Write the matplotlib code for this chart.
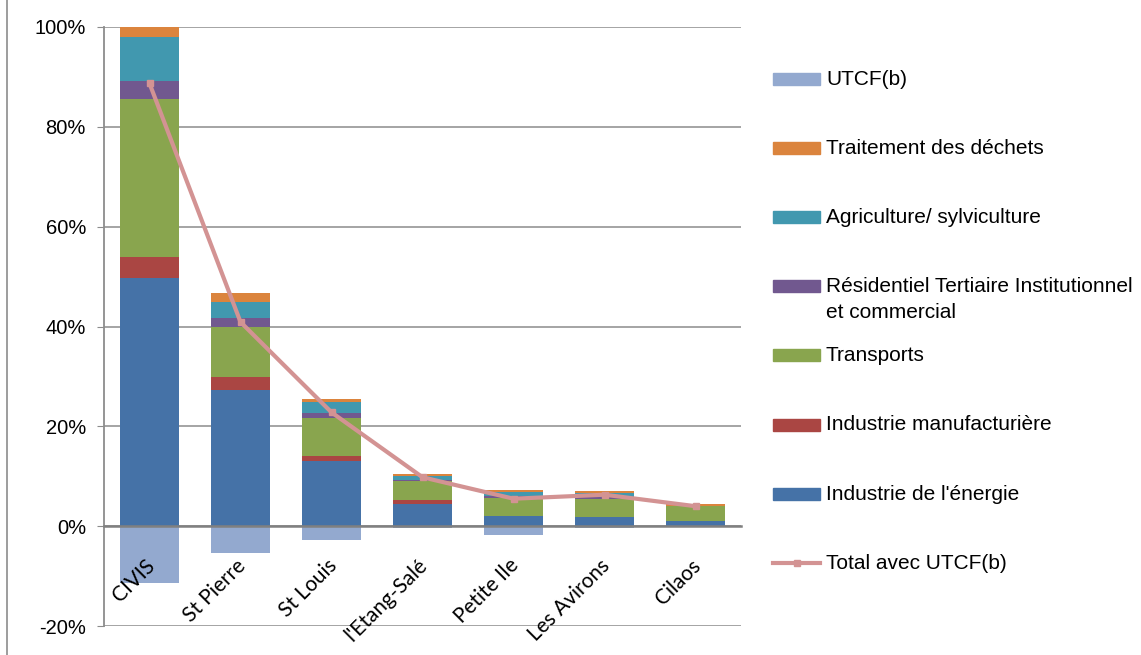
import matplotlib
matplotlib.use("Agg")
import matplotlib.pyplot as plt
import matplotlib.transforms as mtransforms
import numpy as np
from matplotlib.patches import Rectangle
from matplotlib.lines import Line2D
from matplotlib.ticker import FuncFormatter

communes = ["CIVIS", "St Pierre", "St Louis", "l'Etang-Salé", "Petite Ile", "Les Avirons", "Cilaos"]

# parts in % of CIVIS total
energie = [49.8, 27.3, 13.0, 4.4, 2.1, 1.8, 1.1]
manuf = [4.1, 2.6, 1.1, 0.8, 0.0, 0.0, 0.0]
transports = [31.7, 9.9, 7.5, 3.9, 3.6, 3.55, 2.9]
residentiel = [3.6, 2.0, 1.0, 0.2, 0.4, 0.5, 0.0]
agri = [8.7, 3.2, 2.3, 0.7, 0.8, 0.8, 0.0]
dechets = [2.1, 1.8, 0.6, 0.4, 0.4, 0.3, 0.4]
utcf = [-11.4, -5.3, -2.7, -0.4, -1.8, -0.4, -0.1]
total = [88.7, 40.9, 22.8, 9.8, 5.5, 6.3, 4.0]

series = [
    ("Industrie de l'énergie", energie, '#4572A7'),
    ("Industrie manufacturière", manuf, '#AA4643'),
    ("Transports", transports, '#89A54E'),
    ("Résidentiel Tertiaire Institutionnel\net commercial", residentiel, '#71588F'),
    ("Agriculture/ sylviculture", agri, '#4198AF'),
    ("Traitement des déchets", dechets, '#DB843D'),
]
utcf_col = '#93A9CF'
line_col = '#D39393'

W, H = 1141, 655
fig = plt.figure(figsize=(W / 100, H / 100), dpi=100)
ax = fig.add_axes([104 / W, 29 / H, 637 / W, 599 / H])

x = np.arange(len(communes))
bw = 0.64
bottom = np.zeros(len(communes))
for name, vals, col in series:
    ax.bar(x, vals, bw, bottom=bottom, color=col, zorder=2)
    bottom += np.array(vals)
ax.bar(x, utcf, bw, color=utcf_col, zorder=2)
ax.plot(x, total, color=line_col, lw=3, marker='s', ms=4, zorder=3)

ax.set_xlim(-0.5, len(communes) - 0.5)
ax.set_ylim(-20, 100)
ax.set_yticks(np.arange(-20, 101, 20))
ax.yaxis.set_major_formatter(FuncFormatter(lambda v, p: '%d%%' % v))
ax.grid(axis='y', color='#8c8c8c', lw=1.1, zorder=0)
ax.set_axisbelow(True)

for s in ['top', 'right']:
    ax.spines[s].set_visible(False)
ax.spines['left'].set_color('#8c8c8c')
ax.spines['left'].set_linewidth(1.3)
ax.spines['bottom'].set_position(('data', 0))
ax.spines['bottom'].set_color('#808080')
ax.spines['bottom'].set_linewidth(1.8)
ax.spines['bottom'].set_zorder(2.5)

ax.tick_params(axis='y', direction='out', length=5, color='#8c8c8c', labelsize=14.5, pad=8)
for t in ax.get_yticklabels():
    t.set_fontfamily('Liberation Sans')
ax.set_xticks(x)
ax.set_xticklabels(communes, rotation=45, ha='right', rotation_mode='anchor',
                   fontfamily='Lato', fontsize=15)
ax.tick_params(axis='x', length=0, pad=21)
shift = mtransforms.ScaledTranslation(-0.05, 0, fig.dpi_scale_trans)
for t in ax.get_xticklabels():
    t.set_transform(t.get_transform() + shift)
ax.xaxis.set_zorder(5)  # labels sit over the UTCF bars

# legend drawn at right, top to bottom
leg = [("UTCF(b)", utcf_col, 'patch')] + \
      [(n, c, 'patch') for n, v, c in reversed(series)] + \
      [("Total avec UTCF(b)", line_col, 'line')]
y0, dy = 79, 69.1
for i, (name, col, kind) in enumerate(leg):
    yc = y0 + dy * i
    if kind == 'patch':
        fig.add_artist(Rectangle((773 / W, 1 - (yc + 6) / H), 47 / W, 12 / H,
                                 color=col, transform=fig.transFigure))
    else:
        fig.add_artist(Line2D([773 / W, 796.5 / W, 820 / W], [1 - yc / H] * 3, color=col,
                              lw=3, marker='s', ms=4, markevery=[1], transform=fig.transFigure))
    fig.text(826 / W, 1 - (yc - 9) / H, name, fontsize=15, family='Liberation Sans',
             va='top', ha='left', linespacing=1.42)

# chart frame edge on the left
fig.add_artist(Line2D([7 / W, 7 / W], [0, 1], color='#8c8c8c', lw=1.2, transform=fig.transFigure))

fig.savefig('out.png', dpi=100)
